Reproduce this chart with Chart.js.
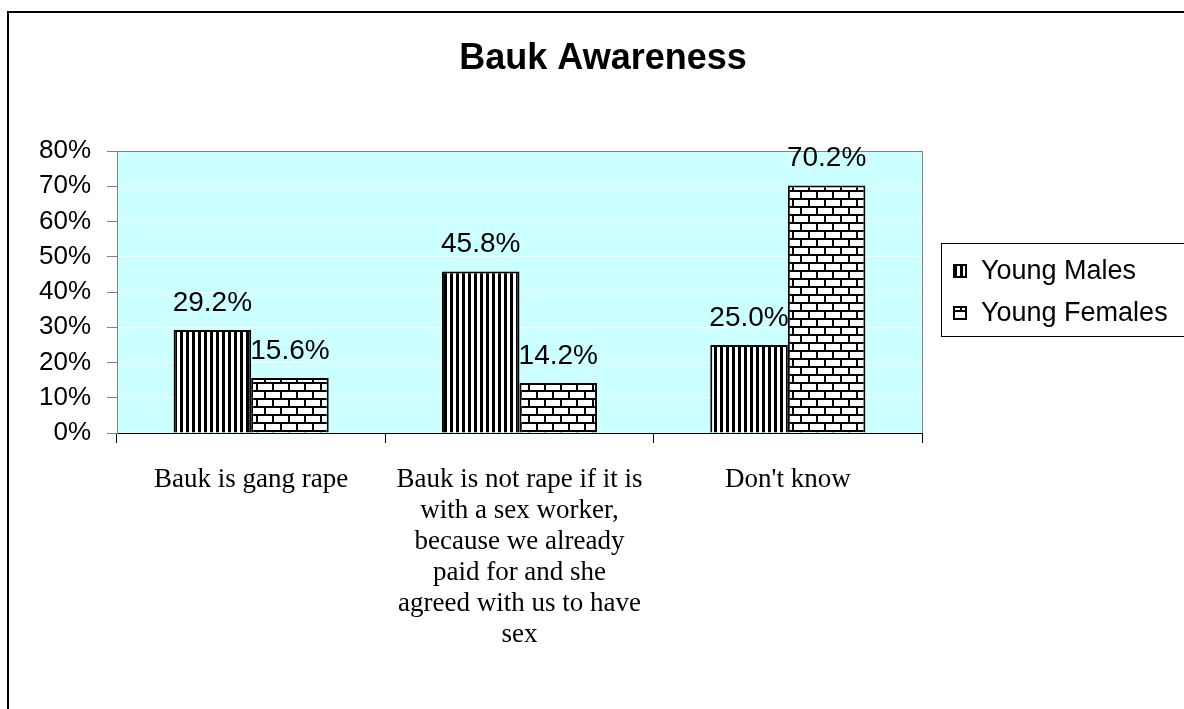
<!DOCTYPE html>
<html>
<head>
<meta charset="utf-8">
<script src="https://cdn.jsdelivr.net/npm/chart.js@4.4.1/dist/chart.umd.min.js"></script>
<style>
  body { margin: 0; background: #fff; }
  canvas { display: block; }
</style>
</head>
<body>
<canvas id="chart" width="1184" height="709"></canvas>
<script>
const chartTitle = 'Bauk Awareness';
const categories = [
    ['Bauk is gang rape'],
    ['Bauk is not rape if it is', 'with a sex worker,', 'because we already', 'paid for and she', 'agreed with us to have', 'sex'],
    ["Don't know"]
];
const seriesNames = ['Young Males', 'Young Females'];
const youngMales = [0.292, 0.458, 0.25];
const youngFemales = [0.156, 0.142, 0.702];
const yTicks = [0, 0.1, 0.2, 0.3, 0.4, 0.5, 0.6, 0.7, 0.8];

// fill patterns like the old excel hatches
function stripePattern() {
    const c = document.createElement('canvas');
    c.width = 6; c.height = 6;
    const g = c.getContext('2d');
    g.fillStyle = '#fff';
    g.fillRect(0, 0, 6, 6);
    g.fillStyle = '#000';
    g.fillRect(0, 0, 3, 6);
    return document.getElementById('chart').getContext('2d').createPattern(c, 'repeat');
}

function brickPattern() {
    const c = document.createElement('canvas');
    c.width = 16; c.height = 16;
    const g = c.getContext('2d');
    g.fillStyle = '#fff';
    g.fillRect(0, 0, 16, 16);
    g.fillStyle = '#000';
    g.fillRect(0, 6, 16, 2);
    g.fillRect(0, 14, 16, 2);
    g.fillRect(0, 0, 2, 6);
    g.fillRect(8, 8, 2, 6);
    return document.getElementById('chart').getContext('2d').createPattern(c, 'repeat');
}

const malePattern = stripePattern();
const femalePattern = brickPattern();

const frame = {
    id: 'frame',
    beforeDraw(chart) {
        const {ctx, chartArea: a} = chart;
        ctx.save();
        ctx.strokeStyle = '#000';
        ctx.lineWidth = 2;
        ctx.strokeRect(8, 12, 1300, 800);
        ctx.fillStyle = '#ccffff';
        ctx.fillRect(a.left, a.top, a.right - a.left, a.bottom - a.top);

        ctx.fillStyle = '#000';
        ctx.font = 'bold 36px "Liberation Sans", Arial, sans-serif';
        ctx.textAlign = 'center';
        ctx.textBaseline = 'middle';
        ctx.fillText(chartTitle, 603, 59);
        ctx.restore();
    },
    afterDraw(chart) {
        const {ctx, chartArea: a} = chart;
        ctx.save();
        ctx.strokeStyle = '#808080';
        ctx.lineWidth = 1;
        ctx.beginPath();
        ctx.moveTo(a.right + 0.5, a.top);
        ctx.lineTo(a.right + 0.5, a.bottom);
        ctx.stroke();

        // legend box
        ctx.strokeStyle = '#000';
        ctx.strokeRect(941.5, 243.5, 300, 93);
        const fills = [malePattern, femalePattern];
        ctx.font = '27px "Liberation Sans", Arial, sans-serif';
        ctx.textBaseline = 'middle';
        seriesNames.forEach((name, i) => {
            const y = 271 + i * 42;
            ctx.fillStyle = fills[i];
            ctx.fillRect(953, y - 7, 14, 14);
            ctx.strokeStyle = '#000';
            ctx.lineWidth = 2;
            ctx.strokeRect(954, y - 6, 12, 12);
            ctx.fillStyle = '#000';
            ctx.fillText(name, 981, y + 1);
        });
        ctx.restore();
    },
    afterDatasetsDraw(chart) {
        const {ctx} = chart;
        ctx.save();
        ctx.font = '28px "Liberation Sans", Arial, sans-serif';
        ctx.fillStyle = '#000';
        ctx.textAlign = 'center';
        ctx.textBaseline = 'middle';
        chart.data.datasets.forEach((ds, i) => {
            chart.getDatasetMeta(i).data.forEach((bar, j) => {
                ctx.fillText((ds.data[j] * 100).toFixed(1) + '%', bar.x, bar.y - 27);
            });
        });
        ctx.restore();
    }
};

new Chart(document.getElementById('chart'), {
    type: 'bar',
    data: {
        labels: categories,
        datasets: [{
            label: seriesNames[0],
            data: youngMales,
            backgroundColor: malePattern,
            borderColor: '#000',
            borderWidth: 2
        }, {
            label: seriesNames[1],
            data: youngFemales,
            backgroundColor: femalePattern,
            borderColor: '#000',
            borderWidth: 2
        }]
    },
    options: {
        responsive: false,
        animation: false,
        layout: {padding: {left: 0, right: 262, top: 151, bottom: 0}},
        datasets: {bar: {categoryPercentage: 0.578, barPercentage: 1}},
        plugins: {
            legend: {display: false},
            tooltip: {enabled: false},
            title: {display: false}
        },
        scales: {
            x: {
                grid: {drawOnChartArea: false, tickLength: 10, tickColor: '#000', offset: true},
                border: {color: '#000', width: 1},
                ticks: {
                    color: '#000',
                    padding: 21,
                    maxRotation: 0,
                    autoSkip: false,
                    font: {family: '"Liberation Serif", "Times New Roman", serif', size: 27, lineHeight: 1.15}
                },
                afterFit(scale) { scale.height = 276; }
            },
            y: {
                min: 0,
                max: 0.8,
                afterBuildTicks(scale) { scale.ticks = yTicks.map(v => ({value: v})); },
                grid: {
                    color: c => c.tick && c.tick.value >= 0.8 ? '#808080' : '#ffffff',
                    tickColor: '#808080',
                    tickLength: 10
                },
                border: {color: '#808080', width: 1},
                ticks: {
                    color: '#000',
                    padding: 16,
                    font: {family: '"Liberation Sans", Arial, sans-serif', size: 26},
                    callback: v => Math.round(v * 100) + '%'
                },
                afterFit(scale) { scale.width = 117; }
            }
        }
    },
    plugins: [frame]
});
</script>
</body>
</html>
